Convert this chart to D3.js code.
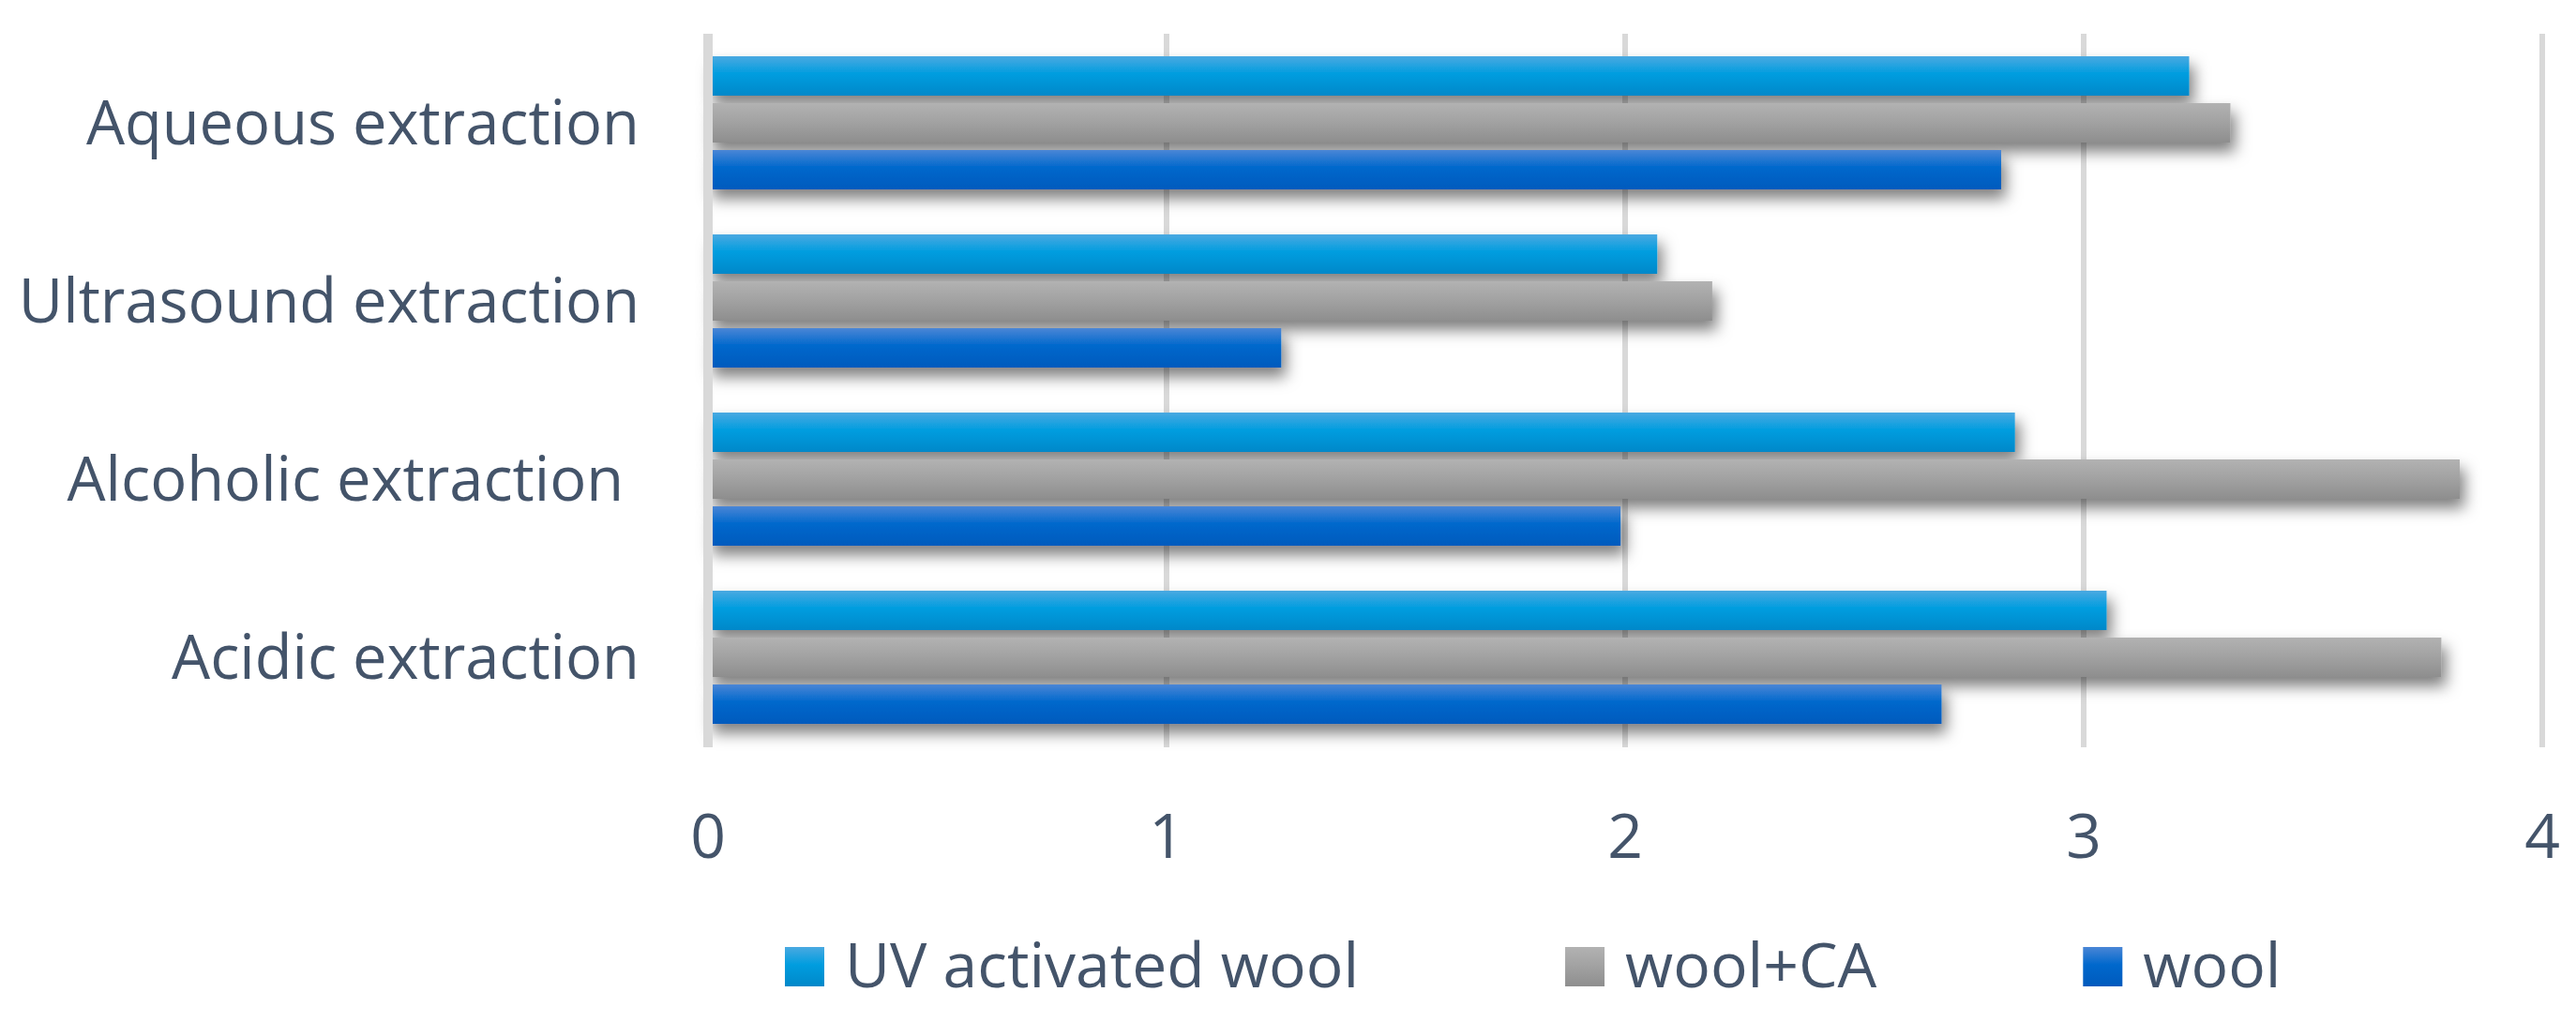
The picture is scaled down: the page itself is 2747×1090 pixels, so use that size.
<!DOCTYPE html>
<html>
<head>
<meta charset="utf-8">
<script src="https://cdn.jsdelivr.net/npm/d3@7"></script>
<style>
  body { margin: 0; background: #ffffff; }
  text { font-family: "Open Sans", sans-serif; fill: #44546a; }
</style>
</head>
<body>
<script>
// Horizontal grouped bars, three wool treatments per extraction method

// categories top to bottom, as in the picture
var categories = ["Aqueous extraction", "Ultrasound extraction", "Alcoholic extraction ", "Acidic extraction"];
var series = ["UV activated wool", "wool+CA", "wool"];

// one array per series, same order as categories
var uvWool = [3.23, 2.07, 2.85, 3.05];
var woolCA = [3.32, 2.19, 3.82, 3.78];
var wool   = [2.82, 1.25, 1.99, 2.69];

var xTicks = [0, 1, 2, 3, 4];

var w = 2747, h = 1090;
var fontSize = 65;
var legendSize = 66;

// gradient stops for each series (top, middle, bottom)
var colors = {
  "UV activated wool": ["#4aa9e1", "#009ddf", "#0088c9"],
  "wool+CA": ["#b2b2b2", "#a3a3a3", "#8e8e8e"],
  "wool": ["#4a86d6", "#0068cc", "#005abd"]
};

var rows = categories.map(function(c, i){
  return { cat: c, values: [
    { key: series[0], value: uvWool[i] },
    { key: series[1], value: woolCA[i] },
    { key: series[2], value: wool[i] }
  ]};
});

var svg = d3.select("body")
  .append("svg")
  .attr("width", w)
  .attr("height", h);

var defs = svg.append("defs");

// soft drop shadow under the bars
var shadow = defs.append("filter")
  .attr("id", "shadow")
  .attr("x", "-5%").attr("y", "-60%")
  .attr("width", "115%").attr("height", "260%");
shadow.append("feDropShadow")
  .attr("dx", 5)
  .attr("dy", 10)
  .attr("stdDeviation", 8)
  .attr("flood-color", "#000")
  .attr("flood-opacity", 0.5);

series.forEach(function(s, i){
  var g = defs.append("linearGradient")
    .attr("id", "grad" + i)
    .attr("x1", 0).attr("y1", 0).attr("x2", 0).attr("y2", 1);
  g.append("stop").attr("offset", "0%").attr("stop-color", colors[s][0]);
  g.append("stop").attr("offset", "45%").attr("stop-color", colors[s][1]);
  g.append("stop").attr("offset", "100%").attr("stop-color", colors[s][2]);
});

var x = d3.scaleLinear()
  .domain([0, 4])
  .range([755, 2711]);

var y0 = d3.scaleBand()
  .domain(categories)
  .range([36, 796])
  .paddingInner(0.2526)
  .paddingOuter(0.1263);

var y1 = d3.scaleBand()
  .domain(series)
  .range([0, y0.bandwidth()])
  .paddingInner(0.16);

// vertical gridlines
svg.append("g")
  .selectAll("line")
  .data(xTicks.slice(1))
  .enter()
  .append("line")
  .attr("x1", function(d){ return x(d); })
  .attr("x2", function(d){ return x(d); })
  .attr("y1", 36)
  .attr("y2", 797)
  .attr("stroke", "#d9d9d9")
  .attr("stroke-width", 6);

// bars
var groups = svg.append("g")
  .selectAll("g")
  .data(rows)
  .enter()
  .append("g")
  .attr("transform", function(d){ return "translate(0," + y0(d.cat) + ")"; });

groups.selectAll("rect")
  .data(function(d){ return d.values; })
  .enter()
  .append("rect")
  .attr("x", x(0))
  .attr("y", function(d){ return y1(d.key); })
  .attr("width", function(d){ return x(d.value) - x(0); })
  .attr("height", y1.bandwidth())
  .attr("fill", function(d){ return "url(#grad" + series.indexOf(d.key) + ")"; })
  .attr("filter", "url(#shadow)");

// value axis line at zero
svg.append("line")
  .attr("x1", x(0)).attr("x2", x(0))
  .attr("y1", 36).attr("y2", 797)
  .attr("stroke", "#d9d9d9")
  .attr("stroke-width", 10);

// x tick labels
svg.append("g")
  .selectAll("text")
  .data(xTicks)
  .enter()
  .append("text")
  .attr("x", function(d){ return x(d); })
  .attr("y", 915)
  .attr("text-anchor", "middle")
  .style("font-size", legendSize + "px")
  .text(function(d){ return d; });

// category labels
svg.append("g")
  .selectAll("text")
  .data(categories)
  .enter()
  .append("text")
  .attr("x", 682)
  .attr("y", function(d){ return y0(d) + y0.bandwidth() / 2 + 23; })
  .attr("text-anchor", "end")
  .style("font-size", fontSize + "px")
  .style("white-space", "pre")
  .text(function(d){ return d; });

// legend
var legend = svg.append("g");
var lx = 837;
series.forEach(function(s, i){
  legend.append("rect")
    .attr("x", lx)
    .attr("y", 1010)
    .attr("width", 42)
    .attr("height", 42)
    .attr("fill", "url(#grad" + i + ")");
  var t = legend.append("text")
    .attr("x", lx + 64)
    .attr("y", 1053)
    .style("font-size", legendSize + "px")
    .text(s);
  lx = lx + 64 + t.node().getComputedTextLength() + 220;
});
</script>
</body>
</html>
